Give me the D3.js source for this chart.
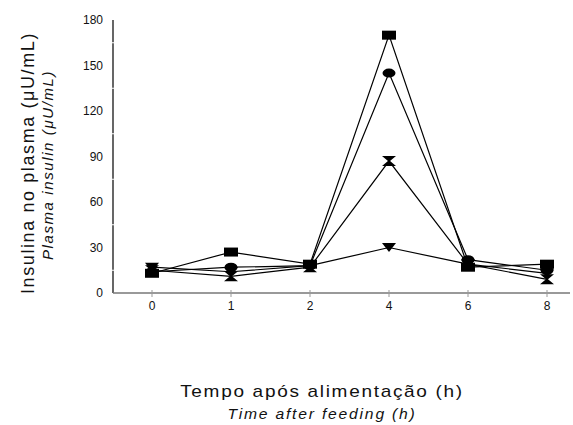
<!DOCTYPE html>
<html><head><meta charset="utf-8">
<script src="https://cdn.jsdelivr.net/npm/d3@7"></script>
<style>body{margin:0;background:#fff;} svg{display:block;font-family:"Liberation Sans",Arial,sans-serif;}</style>
</head><body>
<svg id="c" width="573" height="425"></svg>
<script>
const categories = ["0","1","2","4","6","8"];
const yTicks = [0,30,60,90,120,150,180];
const squareSeries = [13,27,19,170,17,19];
const circleSeries = [14,17,18,145,22,15];
const hourglassSeries = [15,11,17,87,19,9];
const triangleSeries = [17,14,18,30,19,13];
const series = [
  {shape:"square", values:squareSeries},
  {shape:"circle", values:circleSeries},
  {shape:"hourglass", values:hourglassSeries},
  {shape:"triangle", values:triangleSeries}
];

const svg = d3.select("#c");
const x = d3.scalePoint().domain(categories).range([152,547]);
const y = d3.scaleLinear().domain([0,180]).range([293,20]);

// y axis
const gy = svg.append("g").attr("transform","translate(113,0)");
gy.append("line").attr("y1",y(180)).attr("y2",y(0)).attr("stroke","#000").attr("stroke-width",1.2);
gy.selectAll("line.gap").data(d3.range(15,180,30)).join("line").attr("class","gap")
  .attr("x1",-2).attr("x2",2).attr("y1",d=>y(d)).attr("y2",d=>y(d)).attr("stroke","#fff").attr("stroke-width",1);
gy.selectAll("text").data(yTicks).join("text")
  .attr("x",-10).attr("y",d=>y(d)).attr("dy","0.35em").attr("text-anchor","end")
  .attr("font-size",12).attr("fill","#111").text(d=>d);

// x axis
const gx = svg.append("g");
gx.append("line").attr("x1",113).attr("x2",570).attr("y1",293).attr("y2",293).attr("stroke","#777").attr("stroke-width",1.3);
gx.selectAll("line.t").data(categories).join("line").attr("class","t")
  .attr("x1",d=>x(d)).attr("x2",d=>x(d)).attr("y1",290).attr("y2",297).attr("stroke","#999").attr("stroke-width",1);
gx.selectAll("text").data(categories).join("text")
  .attr("x",d=>x(d)).attr("y",310).attr("text-anchor","middle")
  .attr("font-size",12).attr("fill","#111").text(d=>d);

// lines
const line = d3.line().x((d,i)=>x(categories[i])).y(d=>y(d));
svg.selectAll("path.ser").data(series).join("path").attr("class","ser")
  .attr("d",d=>line(d.values)).attr("fill","none").attr("stroke","#000").attr("stroke-width",1.2);

function shapePath(s){
  if(s==="square") return "M-7,-4.5H7V4.5H-7Z";
  if(s==="hourglass") return "M-7,-5H7L1,0L7,5H-7L-1,0Z";
  if(s==="triangle") return "M-7,-4.5H7L0,4.5Z";
  return null;
}
series.forEach(s=>{
  const g = svg.append("g");
  const pts = s.values.map((v,i)=>({cx:x(categories[i]), cy:y(v)}));
  if(s.shape==="circle"){
    g.selectAll("ellipse").data(pts).join("ellipse").attr("cx",d=>d.cx).attr("cy",d=>d.cy)
      .attr("rx",6.5).attr("ry",4.5).attr("fill","#000");
  } else {
    g.selectAll("path").data(pts).join("path").attr("transform",d=>`translate(${d.cx},${d.cy})`)
      .attr("d",shapePath(s.shape)).attr("fill","#000");
  }
});

// y titles
svg.append("text").attr("transform","translate(34,163) rotate(-90)").attr("text-anchor","middle")
  .attr("font-size",18).attr("letter-spacing",1.6).attr("fill","#111").text("Insulina no plasma (μU/mL)");
svg.append("text").attr("transform","translate(53,165) rotate(-90)").attr("text-anchor","middle")
  .attr("font-size",15).attr("letter-spacing",1.6).attr("font-style","italic").attr("fill","#111").text("Plasma insulin (μU/mL)");
// x titles
svg.append("text").attr("transform","translate(322,397) scale(1.12,1)").attr("text-anchor","middle")
  .attr("font-size",17).attr("letter-spacing",1.5).attr("fill","#111").text("Tempo após alimentação (h)");
svg.append("text").attr("transform","translate(322,419) scale(1.12,1)").attr("text-anchor","middle")
  .attr("font-size",14).attr("letter-spacing",1.6).attr("font-style","italic").attr("fill","#111").text("Time after feeding (h)");
</script>
</body></html>
